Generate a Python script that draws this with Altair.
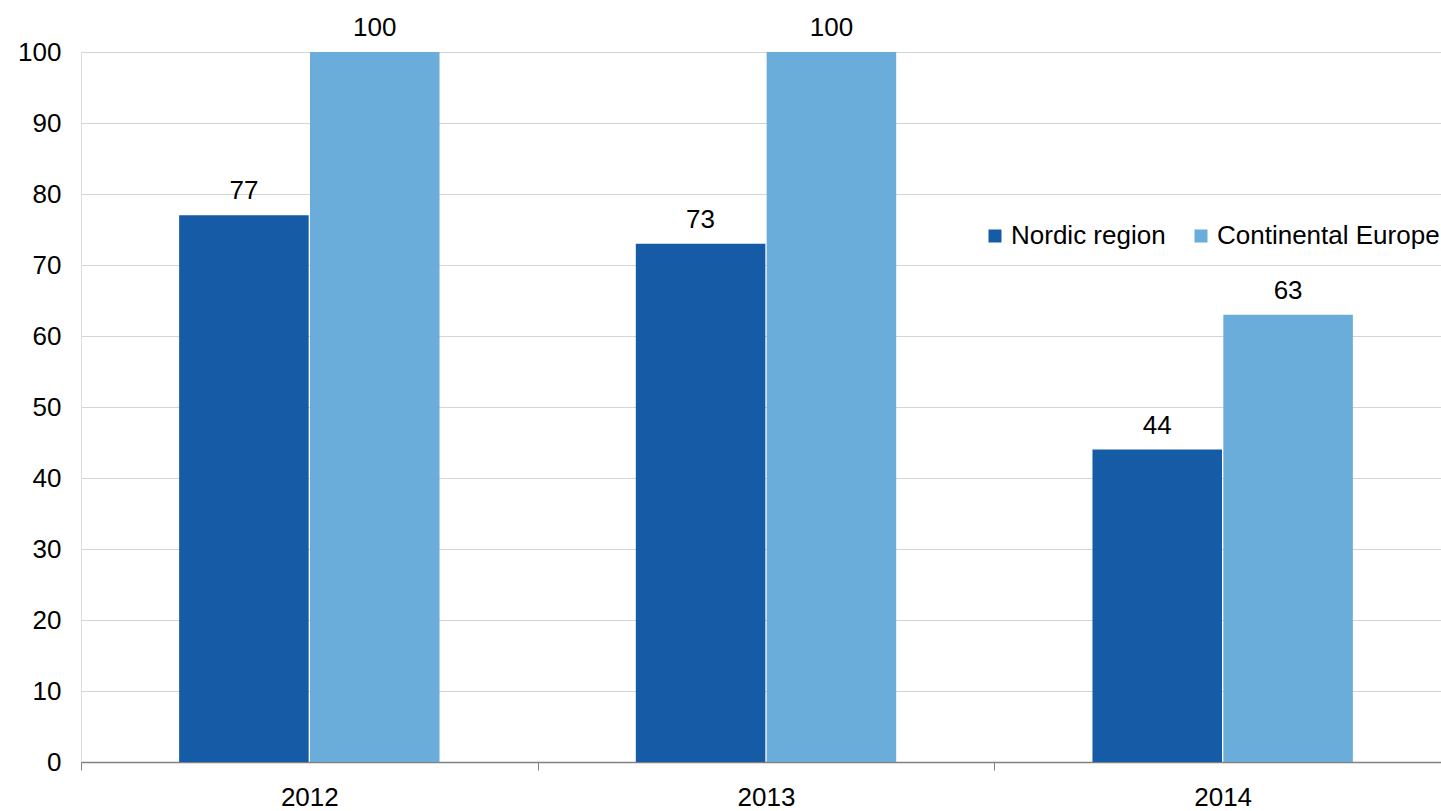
import altair as alt
import pandas as pd

years = ["2012", "2013", "2014"]
nordic = [77, 73, 44]
continental = [100, 100, 63]
series = ["Nordic region", "Continental Europe"]
colors = ["#155BA5", "#6AADDA"]

rows = []
for i, y in enumerate(years):
    rows.append({"year": y, "series": series[0], "value": nordic[i]})
    rows.append({"year": y, "series": series[1], "value": continental[i]})
df = pd.DataFrame(rows)

FONT = "Liberation Sans"
FS = 26
PLOT_W = 1360      # visible plot width
BAND_SPAN = 1370   # full category span (last band runs past the right edge)

x = alt.X(
    "year:N",
    title=None,
    sort=years,
    scale=alt.Scale(paddingInner=0, paddingOuter=0, range=[0, BAND_SPAN]),
    axis=alt.Axis(
        labelAngle=0,
        tickBand="extent",
        tickSize=8,
        tickColor="#808080",
        domainColor="#808080",
        domainWidth=1.5,
        labelPadding=14,
        labelFontSize=FS,
        labelFont=FONT,
        labelColor="#000000",
        grid=False,
    ),
)
xoff = alt.XOffset(
    "series:N",
    sort=series,
    scale=alt.Scale(paddingInner=0.01, paddingOuter=0.75),
)
y = alt.Y(
    "value:Q",
    title=None,
    scale=alt.Scale(domain=[0, 100], nice=False),
    axis=alt.Axis(
        values=list(range(0, 101, 10)),
        ticks=False,
        domain=False,
        labelPadding=20,
        labelFontSize=FS,
        labelFont=FONT,
        labelColor="#000000",
        gridColor="#d4d4d4",
        gridWidth=1,
    ),
)

bars = alt.Chart(df).mark_bar().encode(
    x=x,
    xOffset=xoff,
    y=y,
    color=alt.Color(
        "series:N",
        sort=series,
        scale=alt.Scale(domain=series, range=colors),
        legend=alt.Legend(
            title=None,
            orient="none",
            direction="horizontal",
            legendX=901,
            legendY=171,
            symbolType="square",
            symbolSize=169,
            symbolStrokeWidth=0,
            labelFontSize=FS,
            labelFont=FONT,
            labelColor="#000000",
            labelOffset=3,
            labelLimit=0,
            columnPadding=22,
        ),
    ),
)

labels = alt.Chart(df).mark_text(
    baseline="alphabetic", dy=-16, fontSize=FS, font=FONT, color="#000000"
).encode(
    x=x,
    xOffset=xoff,
    y=y,
    text=alt.Text("value:Q"),
)

chart = (
    alt.layer(bars, labels)
    .properties(
        width=PLOT_W,
        height=710,
        autosize=alt.AutoSizeParams(type="none"),
        padding={"left": 81, "top": 52, "right": 0, "bottom": 49},
    )
    .configure_view(stroke=None)
    .configure(background="#ffffff")
)

chart.save("out.html", embed_options={"renderer": "svg", "actions": False})
